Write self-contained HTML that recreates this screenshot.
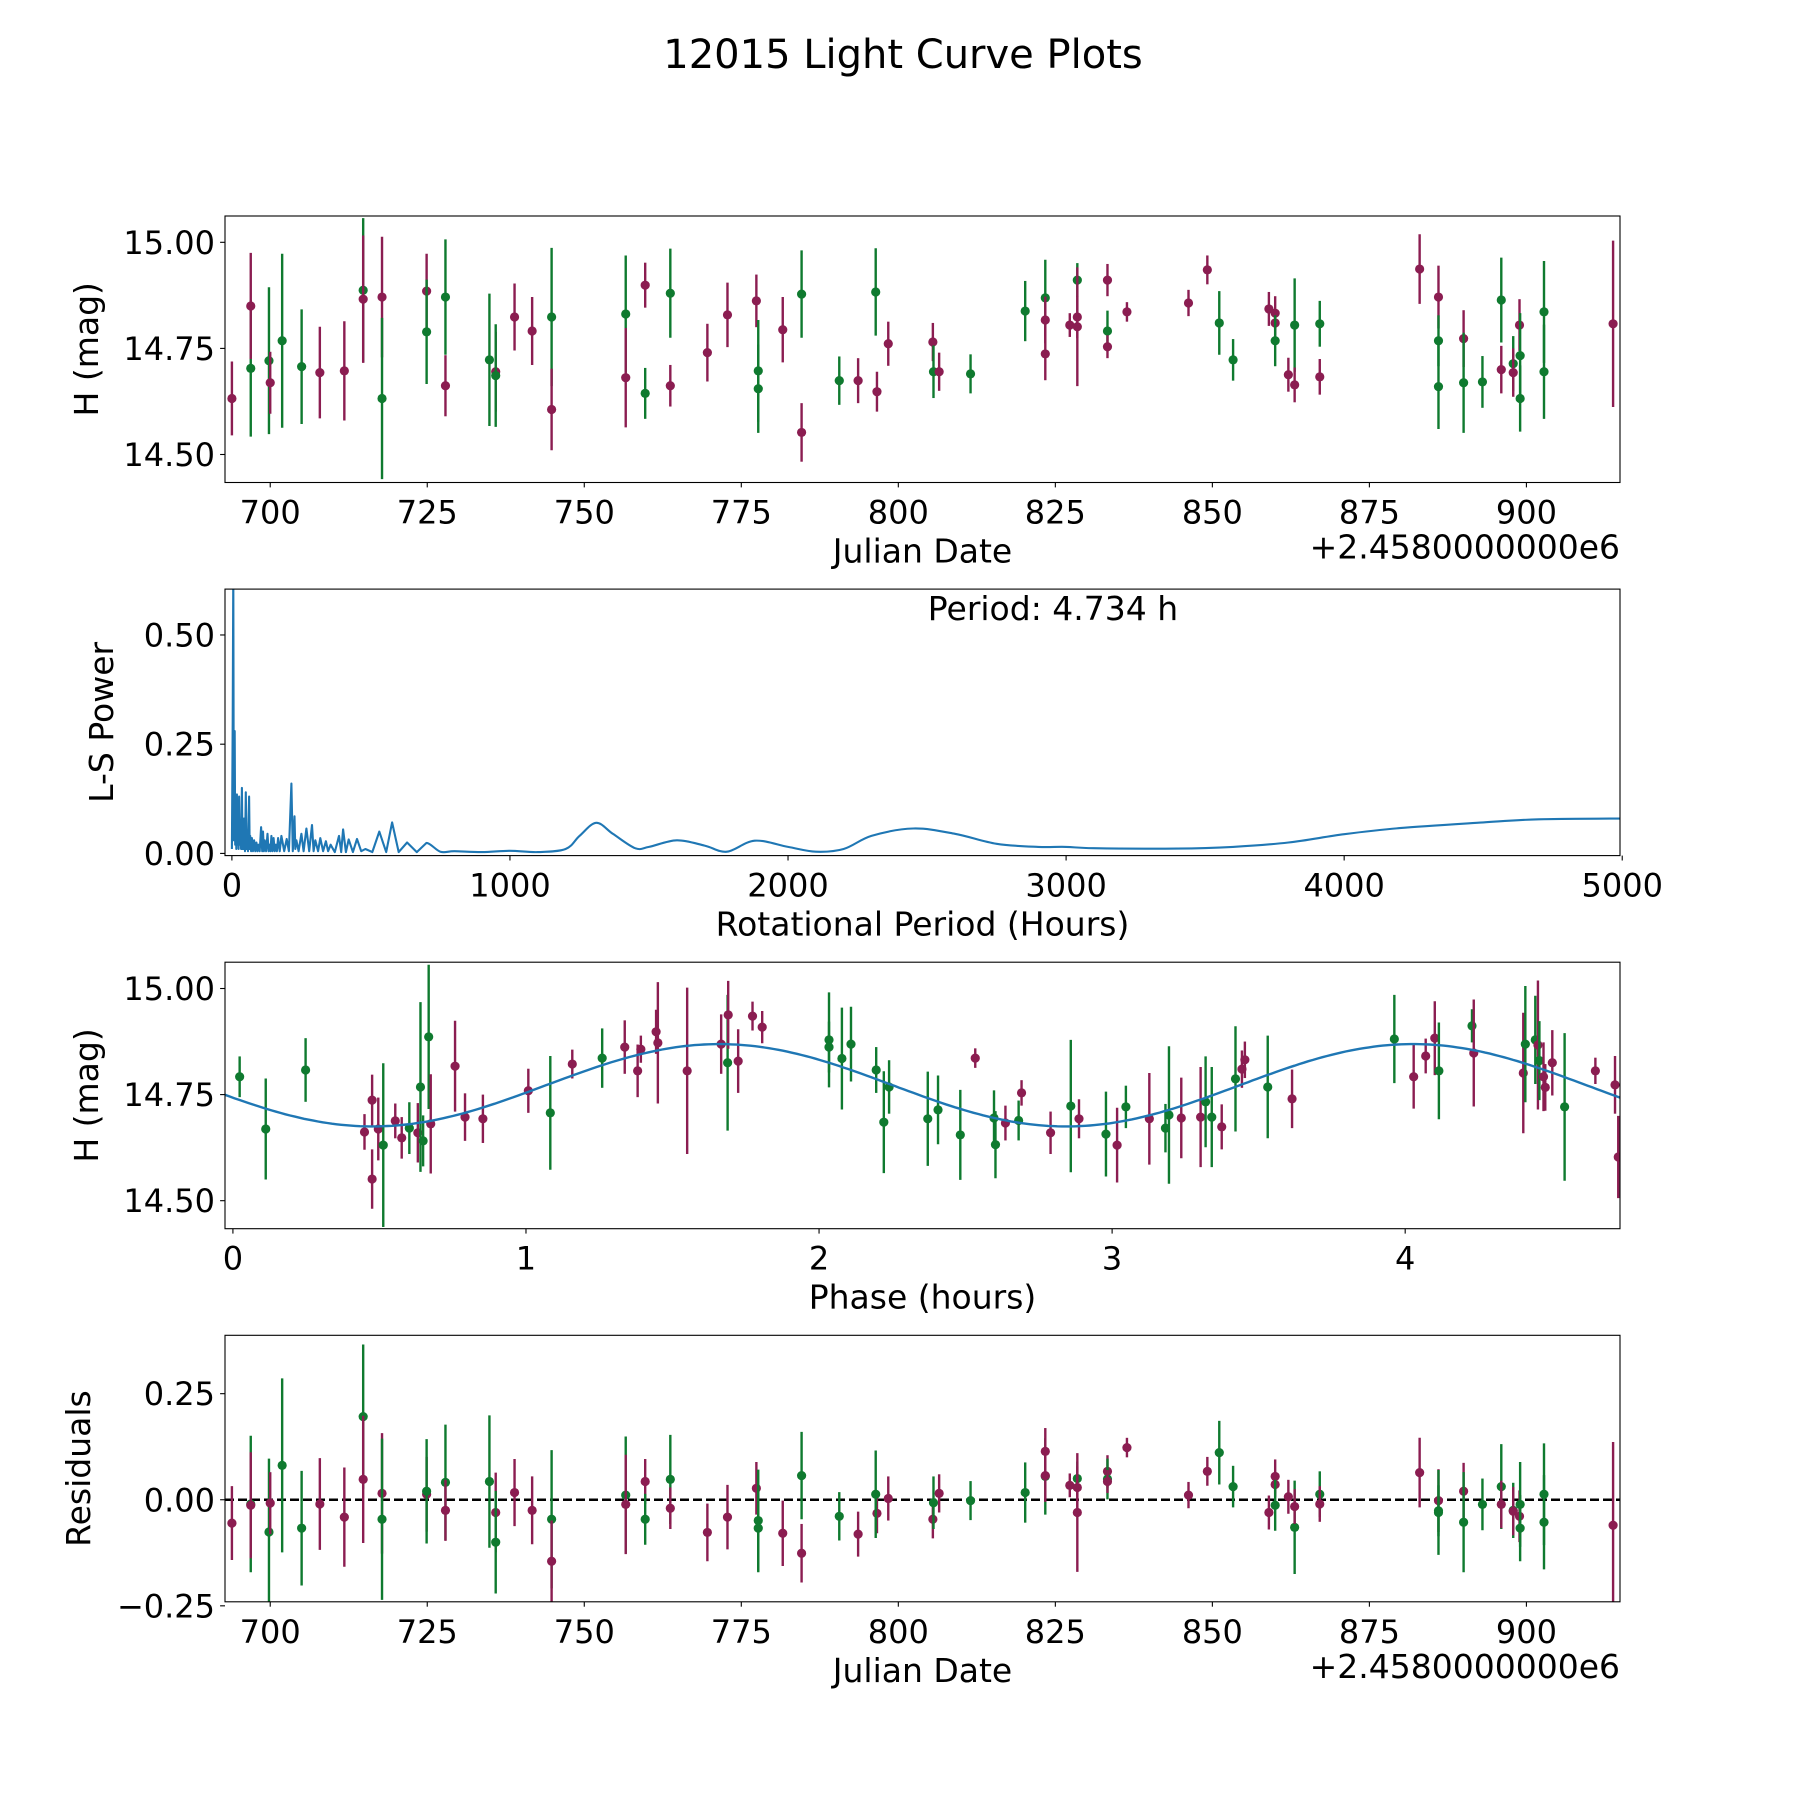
<!DOCTYPE html>
<html><head><meta charset="utf-8"><title>12015 Light Curve Plots</title>
<style>
html,body{margin:0;padding:0;background:#fff;}
svg{display:block;font-family:"DejaVu Sans","Liberation Sans",sans-serif;}
</style></head>
<body>
<svg id="fig" width="1800" height="1800" viewBox="0 0 1800 1800" xmlns="http://www.w3.org/2000/svg">
<rect width="1800" height="1800" fill="#fff"/>
<text x="903" y="68" font-size="40" text-anchor="middle">12015 Light Curve Plots</text>
</svg>
<script>
// ---- Panel 1 / 4 data (Julian date offset, magnitude, error, band, residual) ----
const jdVals = [693.9,696.9,696.9,699.8,700.0,701.9,705.0,707.9,711.8,714.8,714.8,717.8,717.8,724.9,724.9,727.9,727.9,734.9,735.9,735.9,738.9,741.7,744.8,744.8,756.6,756.6,759.7,759.7,763.7,763.7,769.6,772.8,777.4,777.7,777.7,781.6,784.6,784.6,790.6,793.6,796.6,796.4,798.4,805.5,805.6,806.5,811.5,820.2,823.4,823.4,823.4,827.3,828.5,828.5,828.5,833.3,833.3,833.3,836.4,846.2,849.2,851.1,853.3,859.0,860.0,860.0,860.0,862.1,863.1,863.1,867.1,867.1,883.0,886.0,886.0,886.0,890.0,890.0,893.0,896.0,896.0,897.9,897.9,898.9,899.0,899.0,902.8,902.8,913.8];
const magVals = [14.632,14.703,14.850,14.721,14.669,14.768,14.707,14.693,14.697,14.887,14.866,14.871,14.632,14.885,14.789,14.871,14.662,14.723,14.695,14.686,14.824,14.791,14.824,14.606,14.831,14.681,14.899,14.644,14.880,14.662,14.740,14.829,14.862,14.697,14.655,14.794,14.878,14.552,14.674,14.674,14.648,14.883,14.761,14.765,14.695,14.695,14.690,14.838,14.869,14.817,14.737,14.805,14.911,14.824,14.801,14.911,14.791,14.754,14.836,14.857,14.935,14.810,14.723,14.843,14.833,14.810,14.768,14.688,14.805,14.664,14.808,14.683,14.937,14.871,14.768,14.660,14.773,14.669,14.671,14.864,14.700,14.714,14.693,14.805,14.733,14.632,14.836,14.695,14.808];
const errVals = [.087,.161,.125,.173,.073,.205,.135,.108,.117,.17,.15,.142,.19,.088,.123,.136,.072,.156,.094,.121,.079,.08,.163,.096,.138,.117,.053,.06,.105,.049,.068,.076,.062,.12,.104,.077,.103,.069,.057,.053,.047,.103,.052,.045,.062,.045,.046,.071,.09,.055,.062,.028,.04,.05,.14,.038,.048,.027,.023,.031,.034,.075,.049,.04,.04,.03,.06,.04,.11,.041,.054,.042,.082,.074,.06,.10,.067,.118,.061,.1,.056,.065,.057,.061,.1,.078,.12,.111,.196];
const bandVals = "MGMGMGGMMGMMGMGGMGMGMMGMGMMGGMMMMGGMGMGMMGMMGMGGGMMMGMMMGMMMMGGMMMGMGMGMMMGGMGGGMGMMGGGGM";
const residVals = [-0.055,-0.010,-0.013,-0.076,-0.008,0.081,-0.067,-0.010,-0.041,0.196,0.048,0.015,-0.046,0.013,0.020,0.041,-0.025,0.043,-0.030,-0.10,0.017,-0.025,-0.046,-0.145,0.011,-0.011,0.043,-0.046,0.048,-0.020,-0.077,-0.041,0.027,-0.049,-0.067,-0.079,0.057,-0.126,-0.039,-0.081,-0.032,0.013,0.003,-0.046,-0.007,0.015,-0.002,0.017,0.055,0.114,0.057,0.034,0.050,0.029,-0.030,0.067,0.049,0.043,0.123,0.011,0.067,0.111,0.031,-0.030,0.055,0.036,-0.013,0.007,-0.065,-0.016,0.013,-0.010,0.064,-0.002,-0.026,-0.030,0.020,-0.053,-0.011,0.031,-0.011,-0.025,-0.027,-0.039,-0.011,-0.067,0.013,-0.053,-0.060];

// ---- Panel 2 data (Lomb-Scargle periodogram) ----
const lsPeriods = [0,3,5,7,9,10,12,14,16,18,20,22,24,26,28,30,33,36,38,40,42,44,47,50,53,55,58,62,64,66,69,72,76,80,84,88,92,95,100,105,109,112,115,118,123,128,132,135,139,142,146,150,154,158,162,166,172,178,188,197,205,214,219,225,228,232,240,250,258,268,278,288,294,300,310,318,328,338,346,355,370,385,393,400,410,420,435,450,465,480,505,530,555,576,600,630,665,700,750,800,900,1000,1100,1200,1250,1310,1370,1450,1500,1600,1700,1780,1880,2000,2100,2200,2300,2450,2600,2750,2900,3000,3100,3400,3600,3800,4000,4200,4500,4700,5000];
const lsPowers = [0.01,0.3,0.65,0.03,0.1,0.28,0.02,0.13,0.01,0.135,0.02,0.12,0.01,0.13,0.02,0.07,0.01,0.15,0.01,0.08,0.01,0.08,0.005,0.14,0.01,0.05,0.005,0.13,0.01,0.04,0.005,0.035,0.005,0.03,0.005,0.025,0.005,0.02,0.005,0.06,0.005,0.05,0.005,0.03,0.005,0.045,0.005,0.02,0.005,0.04,0.005,0.035,0.005,0.02,0.005,0.035,0.005,0.04,0.005,0.033,0.005,0.16,0.005,0.085,0.01,0.03,0.005,0.045,0.005,0.057,0.005,0.065,0.005,0.03,0.005,0.035,0.005,0.028,0.005,0.02,0.003,0.04,0.003,0.055,0.003,0.032,0.003,0.033,0.005,0.01,0.003,0.05,0.003,0.071,0.003,0.025,0.003,0.024,0.004,0.005,0.003,0.006,0.003,0.01,0.04,0.07,0.045,0.012,0.015,0.03,0.018,0.004,0.029,0.015,0.004,0.01,0.04,0.057,0.045,0.022,0.015,0.015,0.012,0.011,0.015,0.025,0.044,0.058,0.071,0.078,0.08];

// ---- Panel 3 data (phase-folded) ----
const phaseVals = [.023,.112,.248,.449,.475,.475,.496,.513,.554,.576,.602,.631,.64,.649,.668,.675,.758,.792,.853,1.008,1.083,1.158,1.26,1.337,1.381,1.392,1.444,1.450,1.55,1.666,1.688,1.69,1.724,1.773,1.806,2.034,2.034,2.078,2.109,2.195,2.221,2.239,2.371,2.406,2.482,2.533,2.597,2.602,2.636,2.681,2.691,2.79,2.859,2.887,2.979,3.017,3.047,3.127,3.182,3.194,3.236,3.302,3.319,3.34,3.374,3.421,3.443,3.453,3.531,3.614,3.963,4.029,4.07,4.101,4.115,4.228,4.234,4.403,4.41,4.444,4.453,4.458,4.472,4.478,4.502,4.544,4.649,4.716,4.727];
const phaseMag = [14.792,14.669,14.808,14.662,14.737,14.551,14.669,14.631,14.688,14.648,14.671,14.660,14.768,14.641,14.886,14.681,14.817,14.697,14.693,14.759,14.707,14.822,14.836,14.862,14.806,14.857,14.898,14.872,14.806,14.869,14.825,14.938,14.829,14.935,14.909,14.879,14.862,14.835,14.869,14.808,14.685,14.768,14.693,14.714,14.655,14.836,14.695,14.632,14.683,14.689,14.754,14.660,14.723,14.693,14.657,14.631,14.721,14.693,14.671,14.702,14.695,14.697,14.733,14.697,14.674,14.787,14.810,14.832,14.768,14.740,14.881,14.792,14.841,14.883,14.806,14.912,14.848,14.801,14.869,14.879,14.867,14.830,14.792,14.767,14.825,14.721,14.806,14.773,14.603];
const phaseErr = [.048,.119,.075,.042,.06,.07,.074,.193,.041,.049,.061,.07,.2,.06,.17,.117,.107,.056,.057,.052,.134,.034,.07,.063,.062,.032,.052,.143,.196,.07,.16,.08,.075,.034,.038,.112,.06,.12,.088,.054,.12,.063,.111,.081,.106,.023,.065,.079,.041,.047,.03,.05,.156,.046,.1,.088,.05,.108,.057,.162,.095,.118,.107,.118,.053,.124,.044,.043,.121,.069,.104,.075,.041,.087,.114,.039,.126,.142,.137,.104,.152,.093,.081,.055,.077,.174,.031,.068,.097];
const phaseBand = "GGGMMMMGMMGMGGGMMMMMGMGMMMMMMMGMMMMGGGGGGGGGGMGGMGMMGMGMGMGGMMGGMGMMGMGMMMGGMMGGMGMMMGMMM";
// fitted model parameters (mean, amplitude, repeat in hours, peak phase)
const modelParams = [14.772, 0.097, 2.367, 1.66];

const NS = "http://www.w3.org/2000/svg";
const svg = document.getElementById('fig');
const COL = {M:'#8b1d51', G:'#0f7a2f'};
function mk(tag, attrs, parent){ const e=document.createElementNS(NS,tag); for(const k in attrs) e.setAttribute(k,attrs[k]); (parent||svg).appendChild(e); return e; }
function lin(d0,d1,r0,r1){ return v => r0 + (v-d0)/(d1-d0)*(r1-r0); }

const L=225, R=1620, H=266.5, GAP=106.6, T0=216;
const tops=[0,1,2,3].map(i=>T0+i*(H+GAP));
const TF=32, LF=33;

function axes(idx, xdom, ydom, xticks, xlabels, yticks, ylabels, xlabel, ylabel, ylabelX){
  const top=tops[idx], bot=top+H;
  const sx=lin(xdom[0],xdom[1],L,R), sy=lin(ydom[0],ydom[1],bot,top);
  const g=mk('g',{});
  
  
  const cp=mk('clipPath',{id:'clip'+idx},g);
  mk('rect',{x:L,y:top,width:R-L,height:H},cp);
  const plot=mk('g',{'clip-path':'url(#clip'+idx+')'},g);
  
  
  const frame=mk('rect',{x:L,y:top,width:R-L,height:H,fill:'none',stroke:'#000','stroke-width':1.1},g);
  
  
  xticks.forEach((t,i)=>{
    const x=sx(t);
    const tk=mk('line',{x1:x,x2:x,y1:bot,y2:bot+4.9,stroke:'#000','stroke-width':1.1},g);
    
    
    const tx=mk('text',{x:x,y:bot+41,'font-size':TF,'text-anchor':'middle'},g);
    tx.textContent=xlabels[i];
    
    
  });
  yticks.forEach((t,i)=>{
    const y=sy(t);
    const tk=mk('line',{x1:L-4.9,x2:L,y1:y,y2:y,stroke:'#000','stroke-width':1.1},g);
    
    
    const tx=mk('text',{x:L-10,y:y+11.5,'font-size':TF,'text-anchor':'end'},g);
    tx.textContent=ylabels[i];
    
    
  });
  const xl=mk('text',{x:(L+R)/2,y:bot+80,'font-size':LF,'text-anchor':'middle'},g);
  xl.textContent=xlabel;
  
  
  const cy=(top+bot)/2;
  const yl=mk('text',{x:ylabelX,y:cy,'font-size':LF,'text-anchor':'middle',transform:'rotate(-90 '+ylabelX+' '+cy+')'},g);
  yl.textContent=ylabel;
  
  
  return {sx,sy,plot,g,top,bot};
}

function errbar(ax, x, y, e, band, name){
  const c=COL[band];
  const grp=mk('g',{},ax.plot);
  
  
  mk('line',{x1:ax.sx(x),x2:ax.sx(x),y1:ax.sy(y-e),y2:ax.sy(y+e),stroke:c,'stroke-width':2.4},grp);
  mk('circle',{cx:ax.sx(x),cy:ax.sy(y),r:4.6,fill:c},grp);
}

const magTicks=[14.5,14.75,15.0], magLabels=['14.50','14.75','15.00'];
const jdTicks=[700,725,750,775,800,825,850,875,900], jdLabels=jdTicks.map(String);

// Panel 1
const a1=axes(0,[692.8,914.9],[14.434,15.062],jdTicks,jdLabels,magTicks,magLabels,'Julian Date','H (mag)',98);
jdVals.forEach((x,i)=>errbar(a1,x,magVals[i],errVals[i],bandVals[i],'data-point-'+(bandVals[i]==='M'?'magenta':'green')));
const off1=mk('text',{x:R,y:a1.bot+76,'font-size':LF,'text-anchor':'end'},a1.g);
off1.textContent='+2.4580000000e6';



// Panel 2
const a2=axes(1,[-24.8,4992],[-0.005,0.605],[0,1000,2000,3000,4000,5000],['0','1000','2000','3000','4000','5000'],[0,0.25,0.5],['0.00','0.25','0.50'],'Rotational Period (Hours)','L-S Power',113);
const P=lsPeriods.map((p,i)=>[a2.sx(p),a2.sy(lsPowers[i])]);
let d='M'+P[0][0].toFixed(1)+','+P[0][1].toFixed(1);
for(let i=1;i<P.length;i++){
  if(lsPeriods[i]<=700){ d+=' L'+P[i][0].toFixed(1)+','+P[i][1].toFixed(1); continue; }
  const p0=P[Math.max(i-2,0)], p1=P[i-1], p2=P[i], p3=P[Math.min(i+1,P.length-1)];
  const c1x=p1[0]+(p2[0]-p0[0])/6, c1y=p1[1]+(p2[1]-p0[1])/6;
  const c2x=p2[0]-(p3[0]-p1[0])/6, c2y=p2[1]-(p3[1]-p1[1])/6;
  d+=' C'+c1x.toFixed(1)+','+c1y.toFixed(1)+' '+c2x.toFixed(1)+','+c2y.toFixed(1)+' '+p2[0].toFixed(1)+','+p2[1].toFixed(1);
}
const ls=mk('path',{d:d,fill:'none',stroke:'#1f77b4','stroke-width':2.1,'stroke-linejoin':'round'},a2.plot);


const ptxt=mk('text',{x:1053,y:620,'font-size':LF,'text-anchor':'middle'},a2.g);
ptxt.textContent='Period: 4.734 h';



// Panel 3
const a3=axes(2,[-0.027,4.733],[14.434,15.062],[0,1,2,3,4],['0','1','2','3','4'],magTicks,magLabels,'Phase (hours)','H (mag)',98);
phaseVals.forEach((x,i)=>errbar(a3,x,phaseMag[i],phaseErr[i],phaseBand[i],'phased-point-'+(phaseBand[i]==='M'?'magenta':'green')));
let mp=[];
for(let k=0;k<=300;k++){ const p=-0.027+k*(4.76/300); const v=modelParams[0]+modelParams[1]*Math.cos(2*Math.PI*(p-modelParams[3])/modelParams[2]); mp.push(a3.sx(p).toFixed(1)+','+a3.sy(v).toFixed(1)); }
const ml=mk('polyline',{points:mp.join(' '),fill:'none',stroke:'#1f77b4','stroke-width':2.4},a3.plot);



// Panel 4
const a4=axes(3,[692.8,914.9],[-0.2405,0.3876],jdTicks,jdLabels,[-0.25,0,0.25],['\u22120.25','0.00','0.25'],'Julian Date','Residuals',90);
const zl=mk('line',{x1:L,x2:R,y1:a4.sy(0),y2:a4.sy(0),stroke:'#000','stroke-width':2.4,'stroke-dasharray':'9,4'},a4.plot);


jdVals.forEach((x,i)=>errbar(a4,x,residVals[i],errVals[i],bandVals[i],'residual-point-'+(bandVals[i]==='M'?'magenta':'green')));
const off4=mk('text',{x:R,y:a4.bot+76,'font-size':LF,'text-anchor':'end'},a4.g);
off4.textContent='+2.4580000000e6';


</script>
</body></html>
